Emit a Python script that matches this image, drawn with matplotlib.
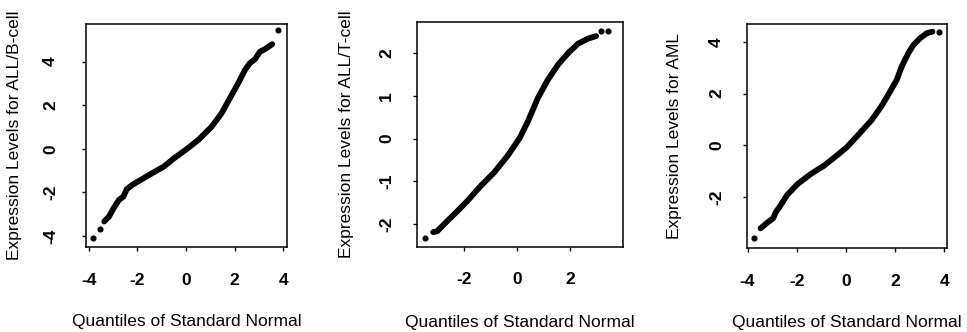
import matplotlib
matplotlib.use("Agg")
import matplotlib.pyplot as plt

plt.rcParams['font.family'] = ['Liberation Sans', 'DejaVu Sans']
plt.rcParams['axes.unicode_minus'] = False

# values: normal quantile (x) vs expression level (y)
bcell_x = [-3.37, -3.17, -2.96, -2.76, -2.58, -2.44, -2.21, -1.86, -1.45, -0.91, -0.49,
           0.04, 0.51, 1.06, 1.47, 1.81, 2.15, 2.43, 2.63, 2.84, 3.05, 3.25, 3.55]
bcell_y = [-3.33, -3.10, -2.68, -2.34, -2.19, -1.85, -1.65, -1.42, -1.15, -0.81, -0.43,
           0.0, 0.41, 1.02, 1.64, 2.33, 3.01, 3.62, 3.93, 4.11, 4.46, 4.57, 4.80]
bcell_out_x = [-3.81, -3.55, 3.80]
bcell_out_y = [-4.07, -3.66, 5.43]

tcell_x = [-3.18, -3.03, -2.65, -2.27, -1.89, -1.39, -0.89, -0.38, 0.09, 0.40, 0.77,
           1.15, 1.53, 1.91, 2.28, 2.66, 2.97]
tcell_y = [-2.19, -2.17, -1.93, -1.70, -1.46, -1.11, -0.80, -0.41, 0.02, 0.41, 0.95,
           1.38, 1.73, 2.00, 2.22, 2.34, 2.40]
tcell_out_x = [-3.50, 3.14, 3.42]
tcell_out_y = [-2.32, 2.53, 2.53]

aml_x = [-3.47, -3.20, -2.96, -2.86, -2.65, -2.39, -1.98, -1.43, -0.89, -0.35, 0.02,
         0.50, 1.04, 1.45, 1.79, 2.06, 2.26, 2.53, 2.74, 3.01, 3.28, 3.51]
aml_y = [-3.20, -2.98, -2.81, -2.59, -2.30, -1.91, -1.50, -1.10, -0.78, -0.37, -0.08,
         0.41, 0.98, 1.53, 2.08, 2.53, 3.04, 3.56, 3.88, 4.14, 4.33, 4.39]
aml_out_x = [-3.74, 3.78]
aml_out_y = [-3.58, 4.39]

panels = [
    dict(x=bcell_x, y=bcell_y, ox=bcell_out_x, oy=bcell_out_y,
         ylabel='Expression Levels for ALL/B-cell',
         xticks=[-4, -2, 0, 2, 4], yticks=[-4, -2, 0, 2, 4],
         xlim=(-4.12, 4.16), ylim=(-4.50, 5.73),
         pos=[0.0889, 0.256, 0.2079, 0.672], ypad=17, xl=-0.332, yl=-0.353),
    dict(x=tcell_x, y=tcell_y, ox=tcell_out_x, oy=tcell_out_y,
         ylabel='Expression Levels for ALL/T-cell',
         xticks=[-2, 0, 2], yticks=[-2, -1, 0, 1, 2],
         xlim=(-3.78, 3.97), ylim=(-2.53, 2.74),
         pos=[0.4315, 0.257, 0.2124, 0.678], ypad=13.7, xl=-0.335, yl=-0.344),
    dict(x=aml_x, y=aml_y, ox=aml_out_x, oy=aml_out_y,
         ylabel='Expression Levels for AML',
         xticks=[-4, -2, 0, 2, 4], yticks=[-2, 0, 2, 4],
         xlim=(-4.01, 4.09), ylim=(-3.97, 4.69),
         pos=[0.7728, 0.252, 0.2062, 0.676], ypad=13.7, xl=-0.329, yl=-0.363),
]

fig = plt.figure(figsize=(9.67, 3.32), dpi=100)

for p in panels:
    ax = fig.add_axes(p['pos'])
    ax.plot(p['x'], p['y'], color='black', lw=4.2, solid_capstyle='round',
            solid_joinstyle='round')
    ax.plot(p['ox'], p['oy'], 'o', color='black', ms=3.4)
    ax.set_xlim(*p['xlim'])
    ax.set_ylim(*p['ylim'])
    ax.set_xticks(p['xticks'])
    ax.set_yticks(p['yticks'])
    for s in ax.spines.values():
        s.set_linewidth(1.1)
    ax.tick_params(direction='out', length=3, width=1, labelsize=12.5)
    ax.tick_params(axis='x', pad=15.5)
    ax.tick_params(axis='y', pad=p['ypad'], labelrotation=90)
    for t in ax.get_xticklabels() + ax.get_yticklabels():
        t.set_fontweight('bold')
    for t in ax.get_yticklabels():
        t.set_va('center')
    ax.set_xlabel('Quantiles of Standard Normal', fontsize=12.5)
    ax.set_ylabel(p['ylabel'], fontsize=12.5)
    ax.xaxis.set_label_coords(0.5, p['xl'])
    ax.xaxis.label.set_va('center')
    ax.yaxis.set_label_coords(p['yl'], 0.5)
    ax.yaxis.label.set_va('center')

fig.savefig('out.png', dpi=100)
